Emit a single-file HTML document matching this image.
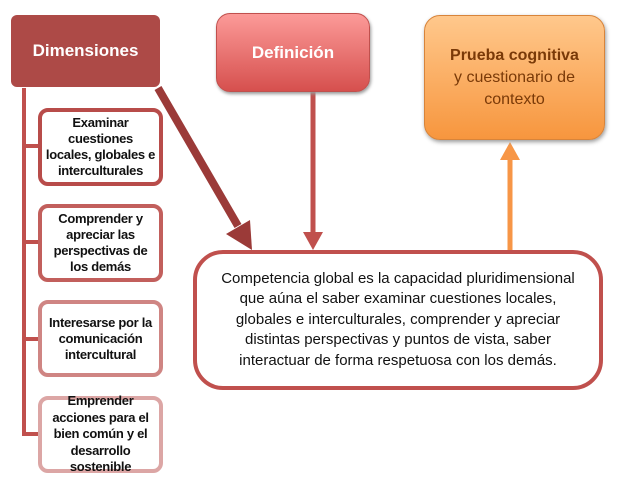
<!DOCTYPE html><html><head><style>
body{margin:0;width:623px;height:497px;background:#fff;position:relative;overflow:hidden;font-family:"Liberation Sans",sans-serif}
.b{position:absolute;box-sizing:border-box;display:flex;align-items:center;justify-content:center;text-align:center}
.s{left:38px;width:125px;border:4px solid #b84c4a;border-radius:10px;background:#fff;font-weight:bold;font-size:13px;line-height:16px;color:#111;white-space:nowrap;letter-spacing:-0.3px}
</style></head><body>
<svg width="623" height="497" style="position:absolute;left:0;top:0">
<g stroke="#c0504d" stroke-width="4" fill="none">
<path d="M24 88V435"/><path d="M22 146H40M22 242H40M22 339H40M22 434H40"/>
</g>
<line x1="158" y1="88" x2="238" y2="226" stroke="#9b3a38" stroke-width="8"/>
<polygon points="226,234 252,250 250,220" fill="#9b3a38"/>
<line x1="313" y1="92" x2="313" y2="232" stroke="#c0504d" stroke-width="5"/>
<polygon points="303,232 323,232 313,250" fill="#c0504d"/>
<line x1="510" y1="250" x2="510" y2="158" stroke="#f79646" stroke-width="5"/>
<polygon points="500,160 520,160 510,142" fill="#f79646"/>
</svg>
<div class="b" style="left:11px;top:15px;width:149px;height:72px;background:#ad4a47;border-radius:6px;color:#fff;font-weight:bold;font-size:17px">Dimensiones</div>
<div class="b" style="left:216px;top:13px;width:154px;height:79px;background:linear-gradient(#fc9a98,#d6504e);border:1px solid #c0504d;border-radius:14px;color:#fff;font-weight:bold;font-size:17px;box-shadow:1px 2px 3px #999">Definición</div>
<div class="b" style="left:424px;top:15px;width:181px;height:125px;background:linear-gradient(#ffc88c,#f7963e);border:1px solid #d8843a;border-radius:16px;color:#7a3a08;font-size:16px;line-height:22px;box-shadow:1px 2px 4px #999"><div><b>Prueba cognitiva</b><br>y cuestionario de<br>contexto</div></div>
<div class="b s" style="top:108px;height:78px">Examinar<br>cuestiones<br>locales, globales e<br>interculturales</div>
<div class="b s" style="top:204px;height:78px;border-color:#c25f5c">Comprender y<br>apreciar las<br>perspectivas de<br>los demás</div>
<div class="b s" style="top:300px;height:77px;border-color:#cf8583">Interesarse por la<br>comunicación<br>intercultural</div>
<div class="b s" style="top:396px;height:77px;border-color:#dca6a5;line-height:16.5px">Emprender<br>acciones para el<br>bien común y el<br>desarrollo<br>sostenible</div>
<div class="b" style="left:193px;top:250px;width:410px;height:140px;border:4px solid #c0504d;border-radius:30px;background:#fff;font-size:15px;line-height:20.5px;color:#111;white-space:nowrap;letter-spacing:0px">Competencia global es la capacidad pluridimensional<br>que aúna el saber examinar cuestiones locales,<br>globales e interculturales, comprender y apreciar<br>distintas perspectivas y puntos de vista, saber<br>interactuar de forma respetuosa con los demás.</div>
</body></html>
